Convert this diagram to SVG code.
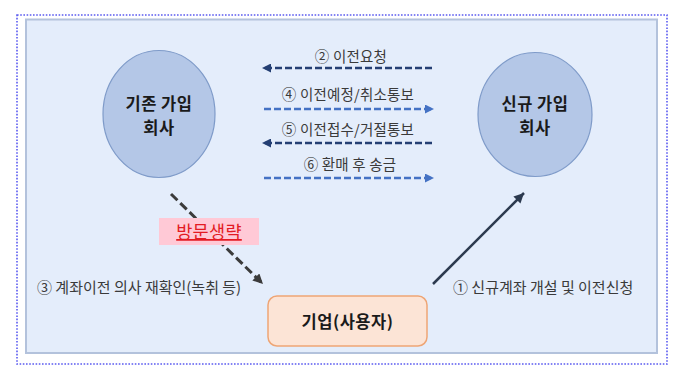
<svg xmlns="http://www.w3.org/2000/svg" width="680" height="380" viewBox="0 0 680 380">
<defs>
<style>
.t{font-family:"Noto Sans CJK KR","Noto Sans",sans-serif;fill:#3a3a3a;}
.lbl{font-size:14.5px;text-anchor:middle;letter-spacing:0.2px;}
.side{font-size:15px;}
.bold{font-weight:bold;fill:#1a1a1a;font-size:16.5px;text-anchor:middle;letter-spacing:0.5px;}
.ell{fill:#b4c7e7;stroke:#7f9bc9;stroke-width:1.2;}
.dk{stroke:#243f73;stroke-width:2.5;stroke-dasharray:7 3;fill:none;}
.lt{stroke:#4472c4;stroke-width:2.5;stroke-dasharray:7 3;fill:none;}
</style>
<marker id="mDk" viewBox="0 0 10 10" refX="10" refY="5" markerWidth="9" markerHeight="9" markerUnits="userSpaceOnUse" orient="auto"><path d="M0,0 L10,5 L0,10 z" fill="#243f73"/></marker>
<marker id="mLt" viewBox="0 0 10 10" refX="10" refY="5" markerWidth="9" markerHeight="9" markerUnits="userSpaceOnUse" orient="auto"><path d="M0,0 L10,5 L0,10 z" fill="#4472c4"/></marker>
<marker id="mGr" viewBox="0 0 10 10" refX="10" refY="5" markerWidth="10" markerHeight="10" markerUnits="userSpaceOnUse" orient="auto"><path d="M0,0 L10,5 L0,10 z" fill="#3b3b3b"/></marker>
<marker id="mSl" viewBox="0 0 10 10" refX="10" refY="5" markerWidth="10" markerHeight="10" markerUnits="userSpaceOnUse" orient="auto"><path d="M0,0 L10,5 L0,10 z" fill="#2c3a4f"/></marker>
</defs>
<rect x="17" y="15" width="650" height="349" fill="#ffffff" stroke="#5b5bf0" stroke-width="1.6" stroke-dasharray="1.6 1.6"/>
<rect x="26" y="19.5" width="631" height="333.5" fill="#e4edfb" stroke="#b3c2dc" stroke-width="2"/>
<g id="connectors">
<line class="dk" x1="432" y1="68" x2="262" y2="68" marker-end="url(#mDk)"/>
<line class="lt" x1="264" y1="109" x2="434" y2="109" marker-end="url(#mLt)"/>
<line class="dk" x1="432" y1="143" x2="262" y2="143" marker-end="url(#mDk)"/>
<line class="lt" x1="264" y1="178" x2="434" y2="178" marker-end="url(#mLt)"/>
<line x1="171" y1="194" x2="263" y2="284" stroke="#3b3b3b" stroke-width="3" stroke-dasharray="9 4" marker-end="url(#mGr)"/>
<line x1="433" y1="284" x2="524" y2="193" stroke="#2c3a4f" stroke-width="2.5" marker-end="url(#mSl)"/>
<text class="t lbl" x="351" y="62">② 이전요청</text>
<text class="t lbl" x="348" y="100">④ 이전예정/취소통보</text>
<text class="t lbl" x="348" y="135">⑤ 이전접수/거절통보</text>
<text class="t lbl" x="350" y="170">⑥ 환매 후 송금</text>
<text class="t side" x="37" y="293">③ 계좌이전 의사 재확인(녹취 등)</text>
<text class="t side" x="453" y="293">① 신규계좌 개설 및 이전신청</text>
<rect x="159" y="218" width="100" height="27" fill="#ffc9d6"/>
<text x="209" y="238" font-family="Noto Sans CJK KR,Noto Sans,sans-serif" font-size="17.5" letter-spacing="0.3" fill="#e31b23" text-anchor="middle" text-decoration="underline">방문생략</text>
</g>
<g id="node-old">
<ellipse class="ell" cx="159" cy="114" rx="56" ry="63.5"/>
<text class="t bold" x="159" y="110">기존 가입</text>
<text class="t bold" x="159" y="134">회사</text>
</g>
<g id="node-new">
<ellipse class="ell" cx="535" cy="114.5" rx="57" ry="62"/>
<text class="t bold" x="535" y="110">신규 가입</text>
<text class="t bold" x="535" y="134">회사</text>
</g>
<g id="node-company">
<rect x="268" y="296" width="159" height="50" rx="9" fill="#fce4d6" stroke="#eea575" stroke-width="1.5"/>
<text class="t bold" x="347.5" y="328" style="font-size:16.5px">기업(사용자)</text>
</g>
</svg>
